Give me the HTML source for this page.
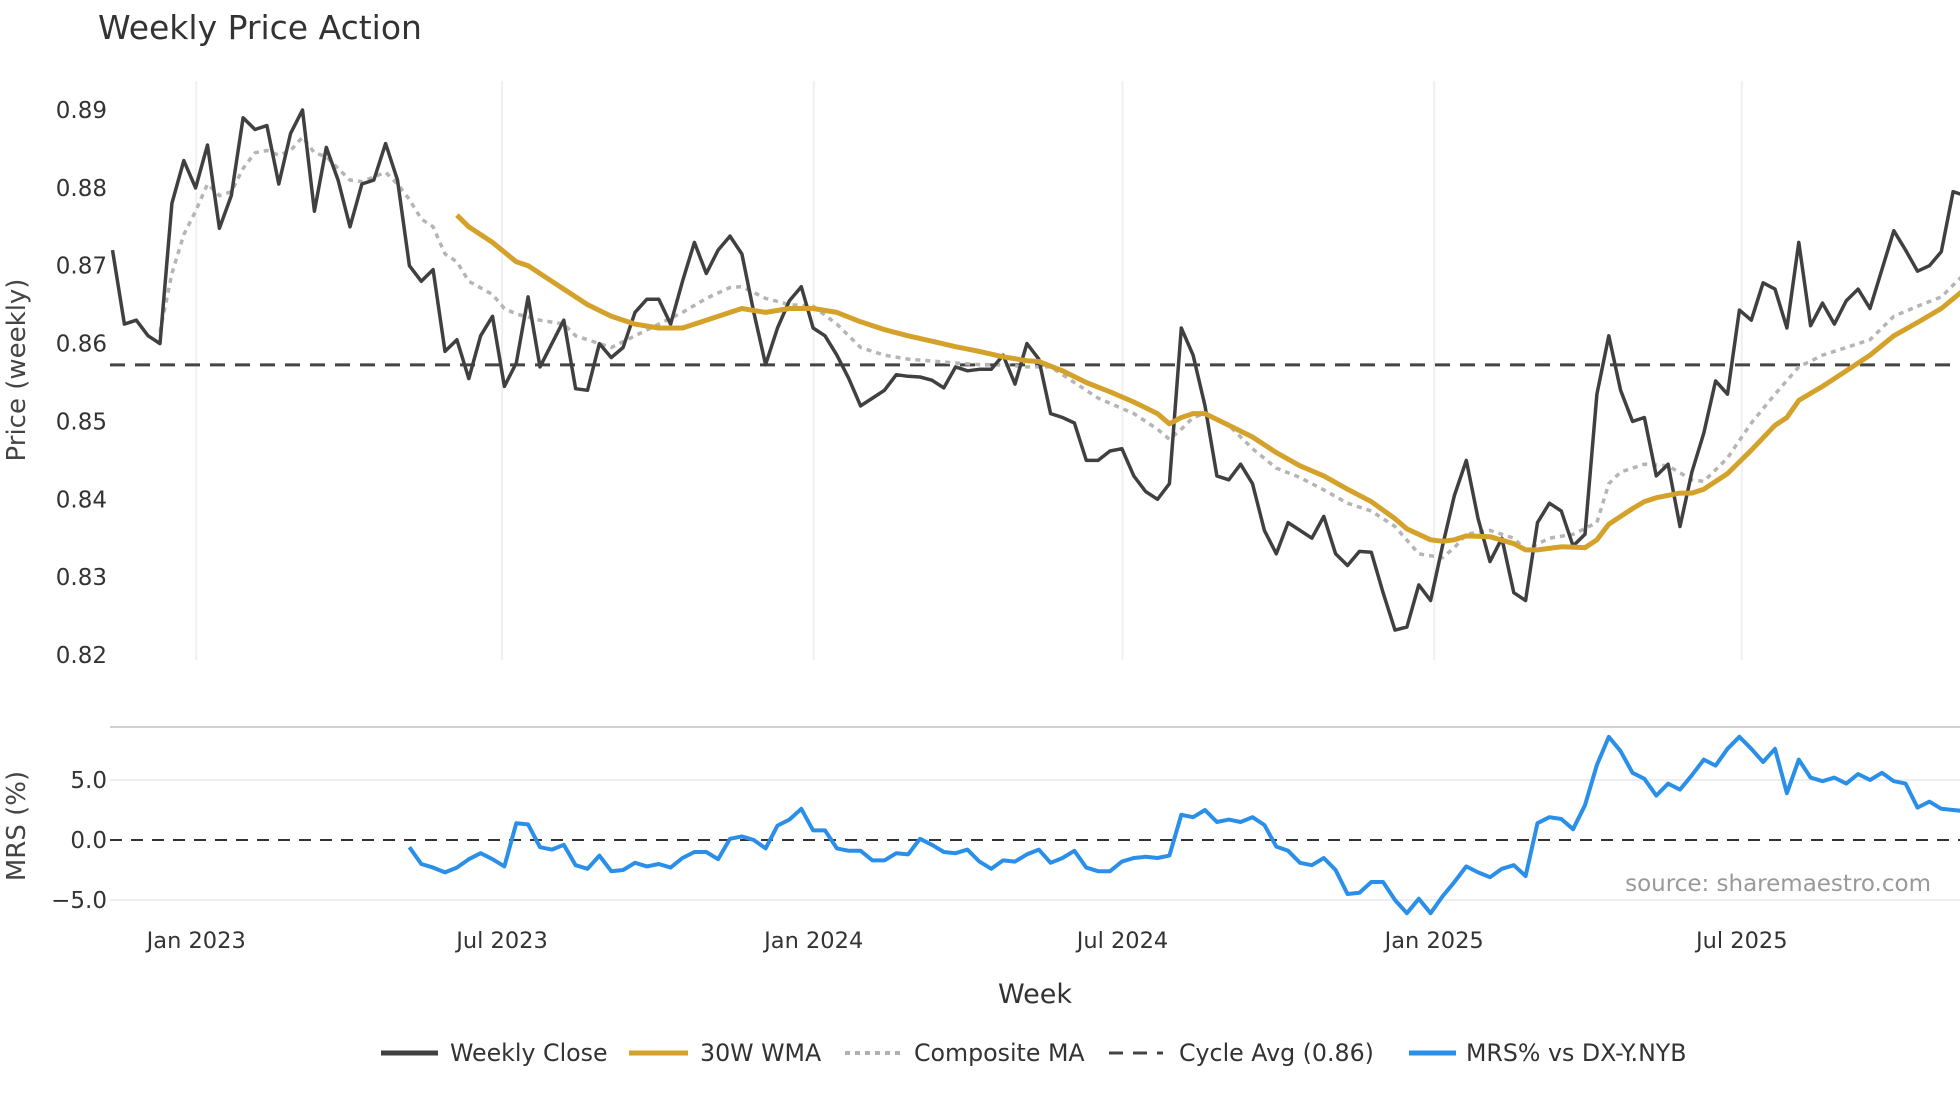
<!DOCTYPE html>
<html><head><meta charset="utf-8"><style>
body{margin:0;background:#fff;}
svg{display:block;font-family:"DejaVu Sans","Liberation Sans",sans-serif;}
</style></head><body>
<svg id="chart" width="1960" height="1102" viewBox="0 0 1960 1102">
<text x="98" y="39" font-size="33" fill="#333">Weekly Price Action</text>
<g id="grid"></g>
<g id="series"></g>
<g id="axes"></g>
<text x="0" y="0" transform="translate(25,370) rotate(-90)" text-anchor="middle" font-size="26" fill="#444">Price (weekly)</text>
<text x="0" y="0" transform="translate(25,826) rotate(-90)" text-anchor="middle" font-size="26" fill="#444">MRS (%)</text>
<text x="1035" y="1003" text-anchor="middle" font-size="27" fill="#333">Week</text>
<text x="1931" y="891" text-anchor="end" font-size="23" fill="#999">source: sharemaestro.com</text>
<g font-size="23.7" fill="#333">
<g><line x1="381" y1="1053" x2="438" y2="1053" stroke="#404040" stroke-width="5"/><text x="450" y="1061">Weekly Close</text></g>
<g><line x1="629" y1="1053" x2="688" y2="1053" stroke="#d4a22a" stroke-width="5"/><text x="700" y="1061">30W WMA</text></g>
<g><line x1="845" y1="1053" x2="900" y2="1053" stroke="#b0b0b0" stroke-width="4" stroke-dasharray="5,5"/><text x="914" y="1061">Composite MA</text></g>
<g><line x1="1109" y1="1053" x2="1163" y2="1053" stroke="#444" stroke-width="3" stroke-dasharray="14,10"/><text x="1179" y="1061">Cycle Avg (0.86)</text></g>
<g><line x1="1409" y1="1053" x2="1456" y2="1053" stroke="#2a8fe8" stroke-width="5"/><text x="1466" y="1061">MRS% vs DX-Y.NYB</text></g>
</g>
</svg>
<script>
const closeValues=[0.872,0.8625,0.863,0.861,0.860,0.878,0.8835,0.880,0.8855,0.8748,0.879,0.889,0.8875,0.888,0.8805,0.887,0.890,0.877,0.8852,0.881,0.875,0.8805,0.881,0.8857,0.881,0.870,0.868,0.8695,0.859,0.8605,0.8555,0.861,0.8635,0.8545,0.8575,0.866,0.857,0.860,0.863,0.8542,0.854,0.860,0.8582,0.8595,0.864,0.8657,0.8657,0.8625,0.868,0.873,0.869,0.872,0.8738,0.8715,0.864,0.8573,0.862,0.8655,0.8673,0.862,0.861,0.8585,0.8555,0.852,0.853,0.854,0.856,0.8558,0.8557,0.8553,0.8543,0.857,0.8565,0.8567,0.8567,0.8585,0.8548,0.860,0.858,0.851,0.8505,0.8498,0.845,0.845,0.8462,0.8465,0.843,0.841,0.840,0.842,0.862,0.8585,0.852,0.843,0.8425,0.8445,0.842,0.836,0.833,0.837,0.836,0.835,0.8378,0.833,0.8315,0.8333,0.8332,0.828,0.8232,0.8236,0.829,0.827,0.834,0.8405,0.845,0.8375,0.832,0.835,0.828,0.827,0.837,0.8395,0.8385,0.834,0.8355,0.8535,0.861,0.854,0.850,0.8505,0.843,0.8445,0.8365,0.8435,0.8485,0.8552,0.8535,0.8643,0.863,0.8678,0.867,0.862,0.873,0.8623,0.8652,0.8625,0.8655,0.867,0.8645,0.8695,0.8745,0.872,0.8693,0.870,0.8718,0.8795,0.879];
const wmaWeeks=[29,30,32,34,35,37,38,40,42,44,46,48,50,52,53,55,57,59,61,63,65,67,69,71,73,75,77,78,80,82,84,86,88,89,90,91,92,94,96,98,100,102,104,106,108,109,111,112,113,114,116,118,119,120,122,124,125,126,128,129,130,132,133,134,136,138,140,141,142,144,146,148,150,152,154,156];
const wmaValues=[0.8765,0.875,0.873,0.8705,0.870,0.868,0.867,0.865,0.8635,0.8625,0.862,0.862,0.863,0.864,0.8645,0.864,0.8645,0.8645,0.864,0.8628,0.8618,0.861,0.8603,0.8596,0.859,0.8583,0.8578,0.8577,0.8565,0.855,0.8538,0.8525,0.851,0.8497,0.8505,0.851,0.851,0.8495,0.848,0.846,0.8443,0.843,0.8413,0.8397,0.8375,0.8362,0.8348,0.8346,0.8348,0.8353,0.8352,0.8343,0.8335,0.8335,0.8339,0.8338,0.8348,0.8368,0.8388,0.8397,0.8402,0.8408,0.8408,0.8413,0.8433,0.8463,0.8495,0.8505,0.8527,0.8545,0.8565,0.8585,0.861,0.8627,0.8645,0.867];
const compWeeks=[4,5,6,7,8,9,10,11,12,13,14,15,16,17,18,19,20,21,23,24,25,26,27,28,29,30,32,33,34,36,38,39,40,42,44,46,48,50,52,53,55,57,59,61,63,65,67,71,73,75,77,79,81,83,86,88,89,90,91,92,94,96,98,100,102,104,106,108,110,112,113,114,116,118,119,121,123,125,126,127,129,131,133,134,136,138,140,142,144,146,148,150,152,154,156];
const compValues=[0.8615,0.869,0.874,0.877,0.8805,0.879,0.8795,0.8825,0.8845,0.8848,0.8842,0.8848,0.8865,0.8845,0.884,0.8825,0.881,0.8808,0.882,0.8805,0.8785,0.876,0.875,0.8715,0.8705,0.868,0.8663,0.8645,0.8638,0.863,0.8625,0.861,0.8605,0.8595,0.861,0.8625,0.864,0.8658,0.8672,0.8673,0.8658,0.865,0.8648,0.8625,0.8595,0.8585,0.858,0.8575,0.8573,0.8573,0.857,0.857,0.855,0.853,0.851,0.849,0.8477,0.849,0.8505,0.851,0.8495,0.8465,0.844,0.8428,0.8412,0.8395,0.8385,0.8365,0.833,0.8325,0.8338,0.8355,0.836,0.835,0.8335,0.835,0.8355,0.837,0.842,0.8435,0.8445,0.8443,0.8425,0.8423,0.8453,0.8498,0.8535,0.857,0.8585,0.8595,0.8605,0.8635,0.8648,0.866,0.869];
const mrsStart=25;
const mrsValues=[-0.6,-2.0,-2.3,-2.7,-2.3,-1.6,-1.1,-1.6,-2.2,1.4,1.3,-0.6,-0.8,-0.4,-2.1,-2.4,-1.3,-2.6,-2.5,-1.9,-2.2,-2.0,-2.3,-1.5,-1.0,-1.0,-1.6,0.1,0.3,0,-0.7,1.2,1.7,2.6,0.8,0.8,-0.7,-0.9,-0.9,-1.7,-1.7,-1.1,-1.2,0.1,-0.4,-1.0,-1.1,-0.8,-1.8,-2.4,-1.7,-1.8,-1.2,-0.8,-1.9,-1.5,-0.9,-2.3,-2.6,-2.6,-1.8,-1.5,-1.4,-1.5,-1.3,2.1,1.9,2.5,1.5,1.7,1.5,1.9,1.25,-0.55,-0.9,-1.9,-2.1,-1.5,-2.5,-4.5,-4.4,-3.5,-3.5,-5.0,-6.1,-4.9,-6.1,-4.7,-3.5,-2.2,-2.7,-3.1,-2.4,-2.1,-3.0,1.4,1.9,1.75,0.9,2.9,6.25,8.6,7.4,5.6,5.1,3.7,4.7,4.2,5.4,6.7,6.2,7.6,8.6,7.6,6.5,7.6,3.9,6.7,5.2,4.9,5.2,4.7,5.5,5.0,5.6,4.9,4.7,2.7,3.2,2.6,2.5,2.4];
const cycleAvg=0.85726;
const priceTicks=[0.82,0.83,0.84,0.85,0.86,0.87,0.88,0.89];
const priceTickLabels=["0.82","0.83","0.84","0.85","0.86","0.87","0.88","0.89"];
const mrsTicks=[-5,0,5];
const mrsTickLabels=["−5.0","0.0","5.0"];
const xTickWeeks=[7.05,32.8,59.05,85.05,111.3,137.2];
const xTickLabels=["Jan 2023","Jul 2023","Jan 2024","Jul 2024","Jan 2025","Jul 2025"];

const NS="http://www.w3.org/2000/svg";
const X=w=>112.5+w*11.875;
const YP=v=>110+(0.89-v)*7785.7;
const YM=v=>840-v*9.6*1.25;
function mk(tag,attrs,parent){const e=document.createElementNS(NS,tag);for(const k in attrs)e.setAttribute(k,attrs[k]);parent.appendChild(e);return e;}
const grid=document.getElementById('grid'),series=document.getElementById('series'),axes=document.getElementById('axes');
xTickWeeks.forEach((w,i)=>{
  const l=mk('line',{x1:X(w),x2:X(w),y1:81,y2:660,stroke:'#eef0f3','stroke-width':2},grid);
  
  
  const t=mk('text',{x:X(w),y:948,'text-anchor':'middle','font-size':22.5,fill:'#333'},axes);
  t.textContent=xTickLabels[i];
  
  
});
priceTicks.forEach((v,i)=>{
  const t=mk('text',{x:107,y:YP(v)+8,'text-anchor':'end','font-size':23,fill:'#333'},axes);
  t.textContent=priceTickLabels[i];
  
  
});
const sep=mk('line',{x1:110,x2:1960,y1:727,y2:727,stroke:'#d0d0d0','stroke-width':2},grid);


mrsTicks.forEach((v,i)=>{
  if(v!==0){const g=mk('line',{x1:110,x2:1960,y1:YM(v),y2:YM(v),stroke:'#eceef1','stroke-width':2},grid);
  
  }
  const t=mk('text',{x:107,y:YM(v)+8,'text-anchor':'end','font-size':23,fill:'#333'},axes);
  t.textContent=mrsTickLabels[i];
  
  
});
const z=mk('line',{x1:110,x2:1960,y1:YM(0),y2:YM(0),stroke:'#333','stroke-width':2,'stroke-dasharray':'12,9'},series);


const ca=mk('line',{x1:110,x2:1960,y1:YP(cycleAvg),y2:YP(cycleAvg),stroke:'#444','stroke-width':3,'stroke-dasharray':'15,10'},series);


function path(ws,vs,yf){return ws.map((w,i)=>(i?'L':'M')+X(w).toFixed(1)+','+yf(vs[i]).toFixed(1)).join('');}
const cw=closeValues.map((_,i)=>i);
const comp=mk('path',{d:path(compWeeks,compValues,YP),fill:'none',stroke:'#b5b5b5','stroke-width':3.5,'stroke-dasharray':'5,5'},series);


const cl=mk('path',{d:path(cw,closeValues,YP),fill:'none',stroke:'#404040','stroke-width':3.5,'stroke-linejoin':'round'},series);


const wm=mk('path',{d:path(wmaWeeks,wmaValues,YP),fill:'none',stroke:'#d4a22a','stroke-width':5,'stroke-linejoin':'round'},series);


const mw=mrsValues.map((_,i)=>mrsStart+i);
const mr=mk('path',{d:path(mw,mrsValues,YM),fill:'none',stroke:'#2a8fe8','stroke-width':4,'stroke-linejoin':'round'},series);


</script>
</body></html>
